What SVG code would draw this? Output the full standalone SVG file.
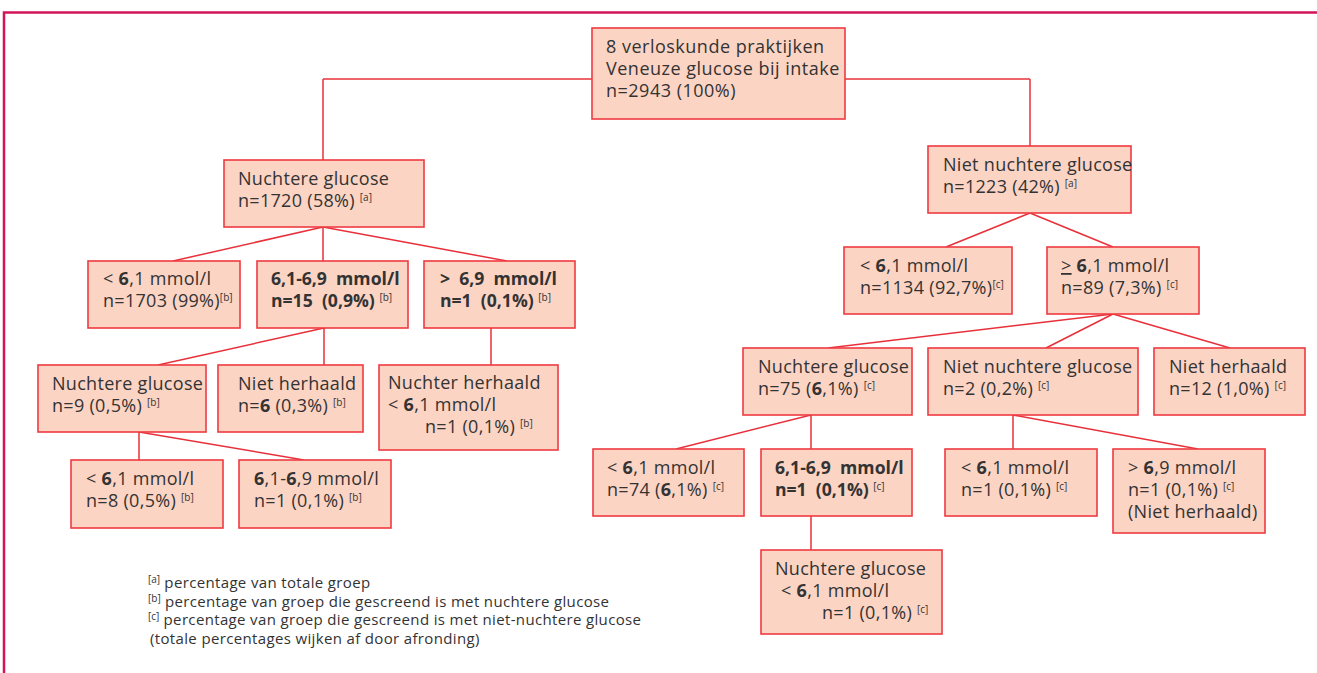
<svg xmlns="http://www.w3.org/2000/svg" width="1317" height="673" viewBox="0 0 1317 673">
<style>
.box{fill:#fcd4c4;stroke:#ee3a42;stroke-width:1.6}
.t{font-family:"Open Sans","Liberation Sans",sans-serif;font-size:18px;letter-spacing:0.3px;fill:#333}
.big{letter-spacing:0.5px}
.b{font-weight:bold;font-size:17.6px;letter-spacing:0}
.b6{font-weight:bold}
.s{font-size:10px;font-weight:normal;letter-spacing:0}
.fn{font-family:"Open Sans","Liberation Sans",sans-serif;font-size:15px;letter-spacing:0.35px;fill:#333}
.conn line{stroke:#e8303a;stroke-width:1.5}
.frame{stroke:#d4145a;stroke-width:2.5;fill:none}
</style>
<path class="frame" d="M4,673 V12.5 H1317"/>
<g id="connectors" class="conn">
<line x1="323" y1="79" x2="592" y2="79"/>
<line x1="323" y1="79" x2="323" y2="160"/>
<line x1="845" y1="79" x2="1030" y2="79"/>
<line x1="1030" y1="79" x2="1030" y2="146"/>
<line x1="323" y1="227" x2="173" y2="261"/>
<line x1="323" y1="227" x2="323" y2="261"/>
<line x1="323" y1="227" x2="507" y2="261"/>
<line x1="324" y1="328" x2="158" y2="365"/>
<line x1="324" y1="328" x2="324" y2="365"/>
<line x1="491" y1="328" x2="491" y2="365"/>
<line x1="139" y1="432" x2="139" y2="460"/>
<line x1="139" y1="432" x2="304" y2="460"/>
<line x1="1030" y1="213" x2="946" y2="247"/>
<line x1="1030" y1="213" x2="1113" y2="247"/>
<line x1="1113" y1="314" x2="828" y2="348"/>
<line x1="1113" y1="314" x2="1046" y2="348"/>
<line x1="1113" y1="314" x2="1230" y2="348"/>
<line x1="811" y1="415" x2="676" y2="449"/>
<line x1="811" y1="415" x2="811" y2="449"/>
<line x1="811" y1="516" x2="811" y2="550"/>
<line x1="1013" y1="415" x2="1013" y2="449"/>
<line x1="1013" y1="415" x2="1198" y2="449"/>
</g>
<g id="n-root"><rect class="box" x="592" y="28" width="253" height="91"/>
<text class="t big"><tspan x="606" y="53">8 verloskunde praktijken</tspan><tspan x="606" y="74.8">Veneuze glucose bij intake</tspan><tspan x="606" y="96.6">n=2943 (100%)</tspan></text></g>
<g id="n-nuchter"><rect class="box" x="224" y="160" width="200" height="67"/>
<text class="t"><tspan x="238" y="185">Nuchtere glucose</tspan><tspan x="238" y="207">n=1720 (58%) <tspan class="s" dy="-6">[a]</tspan></tspan></text></g>
<g id="n-nietnuchter"><rect class="box" x="928" y="146" width="203" height="67"/>
<text class="t"><tspan x="943" y="171">Niet nuchtere glucose</tspan><tspan x="943" y="193">n=1223 (42%) <tspan class="s" dy="-6">[a]</tspan></tspan></text></g>
<g id="n-l-lt61"><rect class="box" x="88" y="261" width="152" height="67"/>
<text class="t"><tspan x="103" y="285">&lt; <tspan class="b6">6</tspan>,1 mmol/l</tspan><tspan x="103" y="307">n=1703 (99%)<tspan class="s" dy="-6">[b]</tspan></tspan></text></g>
<g id="n-l-6169"><rect class="box" x="257" y="261" width="151" height="67"/>
<text class="t b"><tspan x="271" y="285">6,1-6,9 &#160;mmol/l</tspan><tspan x="271" y="307">n=15 &#160;(0,9%) <tspan class="s" dy="-6">[b]</tspan></tspan></text></g>
<g id="n-l-gt69"><rect class="box" x="424" y="261" width="151" height="67"/>
<text class="t b"><tspan x="440" y="285">&gt; &#160;6,9 &#160;mmol/l</tspan><tspan x="440" y="307">n=1 &#160;(0,1%) <tspan class="s" dy="-6">[b]</tspan></tspan></text></g>
<g id="n-l-nuchter9"><rect class="box" x="38" y="365" width="168" height="67"/>
<text class="t"><tspan x="52" y="390">Nuchtere glucose</tspan><tspan x="52" y="412">n=9 (0,5%) <tspan class="s" dy="-6">[b]</tspan></tspan></text></g>
<g id="n-l-nietherh"><rect class="box" x="218" y="365" width="145" height="67"/>
<text class="t"><tspan x="238" y="390">Niet herhaald</tspan><tspan x="238" y="412">n=<tspan class="b6">6</tspan> (0,3%) <tspan class="s" dy="-6">[b]</tspan></tspan></text></g>
<g id="n-l-nuchterherh"><rect class="box" x="379" y="365" width="179" height="85"/>
<text class="t"><tspan x="388" y="389">Nuchter herhaald</tspan><tspan x="388" y="411">&lt; <tspan class="b6">6</tspan>,1 mmol/l</tspan><tspan x="425" y="433">n=1 (0,1%) <tspan class="s" dy="-6">[b]</tspan></tspan></text></g>
<g id="n-l4-lt61"><rect class="box" x="71" y="460" width="152" height="68"/>
<text class="t"><tspan x="86" y="485">&lt; <tspan class="b6">6</tspan>,1 mmol/l</tspan><tspan x="86" y="507">n=8 (0,5%) <tspan class="s" dy="-6">[b]</tspan></tspan></text></g>
<g id="n-l4-6169"><rect class="box" x="239" y="460" width="152" height="68"/>
<text class="t"><tspan x="254" y="485"><tspan class="b6">6</tspan>,1-<tspan class="b6">6</tspan>,9 mmol/l</tspan><tspan x="254" y="507">n=1 (0,1%) <tspan class="s" dy="-6">[b]</tspan></tspan></text></g>
<g id="n-r-lt61"><rect class="box" x="844" y="247" width="168" height="67"/>
<text class="t"><tspan x="860" y="272">&lt; <tspan class="b6">6</tspan>,1 mmol/l</tspan><tspan x="860" y="294">n=1134 (92,7%)<tspan class="s" dy="-6">[c]</tspan></tspan></text></g>
<g id="n-r-ge61"><rect class="box" x="1047" y="247" width="152" height="67"/>
<text class="t"><tspan x="1061" y="272"><tspan text-decoration="underline">&gt;</tspan> <tspan class="b6">6</tspan>,1 mmol/l</tspan><tspan x="1061" y="294">n=89 (7,3%) <tspan class="s" dy="-6">[c]</tspan></tspan></text></g>
<g id="n-r-nuchter75"><rect class="box" x="743" y="348" width="169" height="67"/>
<text class="t"><tspan x="758" y="373">Nuchtere glucose</tspan><tspan x="758" y="395">n=75 (<tspan class="b6">6</tspan>,1%) <tspan class="s" dy="-6">[c]</tspan></tspan></text></g>
<g id="n-r-nietnuchter2"><rect class="box" x="928" y="348" width="210" height="67"/>
<text class="t"><tspan x="943" y="373">Niet nuchtere glucose</tspan><tspan x="943" y="395">n=2 (0,2%) <tspan class="s" dy="-6">[c]</tspan></tspan></text></g>
<g id="n-r-nietherh"><rect class="box" x="1154" y="348" width="151" height="67"/>
<text class="t"><tspan x="1169" y="373">Niet herhaald</tspan><tspan x="1169" y="395">n=12 (1,0%) <tspan class="s" dy="-6">[c]</tspan></tspan></text></g>
<g id="n-r4-lt61a"><rect class="box" x="593" y="449" width="151" height="67"/>
<text class="t"><tspan x="607" y="474">&lt; <tspan class="b6">6</tspan>,1 mmol/l</tspan><tspan x="607" y="496">n=74 (<tspan class="b6">6</tspan>,1%) <tspan class="s" dy="-6">[c]</tspan></tspan></text></g>
<g id="n-r4-6169"><rect class="box" x="761" y="449" width="151" height="67"/>
<text class="t b"><tspan x="775" y="474">6,1-6,9 &#160;mmol/l</tspan><tspan x="775" y="496">n=1 &#160;(0,1%) <tspan class="s" dy="-6">[c]</tspan></tspan></text></g>
<g id="n-r4-lt61b"><rect class="box" x="945" y="449" width="152" height="67"/>
<text class="t"><tspan x="961" y="474">&lt; <tspan class="b6">6</tspan>,1 mmol/l</tspan><tspan x="961" y="496">n=1 (0,1%) <tspan class="s" dy="-6">[c]</tspan></tspan></text></g>
<g id="n-r4-gt69"><rect class="box" x="1113" y="449" width="152" height="84"/>
<text class="t"><tspan x="1128" y="474">&gt; <tspan class="b6">6</tspan>,9 mmol/l</tspan><tspan x="1128" y="496">n=1 (0,1%) <tspan class="s" dy="-6">[c]</tspan></tspan><tspan x="1128" y="518">(Niet herhaald)</tspan></text></g>
<g id="n-r5"><rect class="box" x="761" y="550" width="181" height="84"/>
<text class="t"><tspan x="775" y="575">Nuchtere glucose</tspan><tspan x="781" y="597">&lt; <tspan class="b6">6</tspan>,1 mmol/l</tspan><tspan x="822" y="619">n=1 (0,1%) <tspan class="s" dy="-6">[c]</tspan></tspan></text></g>
<g id="footnotes">
<text class="fn"><tspan x="148" y="588"><tspan class="s" dy="-5">[a]</tspan><tspan dy="5"> percentage van totale groep</tspan></tspan></text>
<text class="fn"><tspan x="148" y="606.5"><tspan class="s" dy="-5">[b]</tspan><tspan dy="5"> percentage van groep die gescreend is met nuchtere glucose</tspan></tspan></text>
<text class="fn"><tspan x="148" y="625"><tspan class="s" dy="-5">[c]</tspan><tspan dy="5"> percentage van groep die gescreend is met niet-nuchtere glucose</tspan></tspan></text>
<text class="fn"><tspan x="150" y="643.5"> (totale percentages wijken af door afronding)</tspan></text>
</g>
</svg>
